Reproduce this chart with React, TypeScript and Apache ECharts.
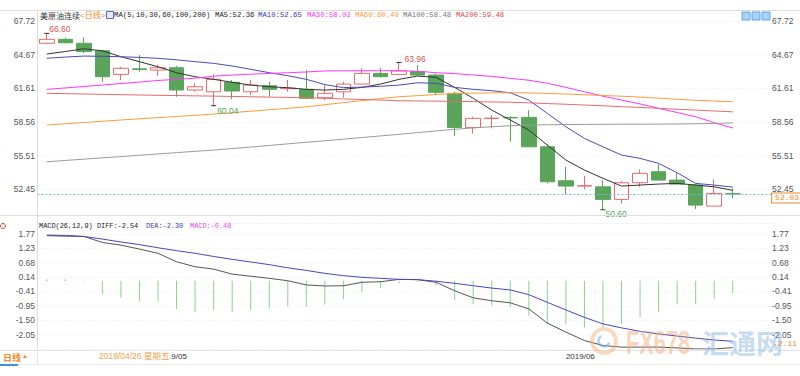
import React, { useEffect, useRef } from 'react';
import * as echarts from 'echarts';

// ---------- data ----------
const dates = [
  '2019/04/23', '2019/04/24', '2019/04/25', '2019/04/26', '2019/04/29', '2019/04/30',
  '2019/05/01', '2019/05/02', '2019/05/03', '2019/05/06', '2019/05/07', '2019/05/08',
  '2019/05/09', '2019/05/10', '2019/05/13', '2019/05/14', '2019/05/15', '2019/05/16',
  '2019/05/17', '2019/05/20', '2019/05/21', '2019/05/22', '2019/05/23', '2019/05/24',
  '2019/05/28', '2019/05/29', '2019/05/30', '2019/05/31', '2019/06/03', '2019/06/04',
  '2019/06/05', '2019/06/06', '2019/06/07', '2019/06/10', '2019/06/11', '2019/06/12',
  '2019/06/13', '2019/06/14',
];
const opens = [65.70, 66.06, 65.70, 65.02, 62.88, 63.38, 63.27, 63.48, 61.46, 61.30, 62.16, 61.30, 61.85, 61.58, 61.52, 60.76, 61.30, 62.00, 62.97, 62.88, 63.12, 62.82, 61.16, 58.07, 58.87, 58.97, 58.98, 56.31, 53.23, 52.75, 52.68, 51.54, 53.05, 54.05, 53.29, 52.84, 50.93, 52.05];
const closes = [66.06, 65.75, 64.95, 62.67, 63.43, 63.33, 63.48, 61.46, 61.76, 62.43, 61.37, 61.91, 61.52, 61.63, 60.71, 61.16, 62.00, 62.97, 62.67, 63.19, 62.82, 61.25, 58.07, 58.89, 58.91, 58.93, 56.31, 53.14, 52.75, 52.79, 51.54, 53.05, 53.90, 53.29, 52.93, 51.02, 52.08, 52.03];
const lows = [65.60, 65.68, 64.79, 62.21, 62.37, 63.12, 62.76, 60.85, 61.30, 60.04, 60.64, 61.00, 60.85, 61.30, 60.61, 60.55, 60.76, 62.00, 62.61, 62.85, 62.80, 61.00, 57.28, 57.53, 57.98, 56.77, 56.31, 52.99, 52.02, 52.45, 50.60, 51.17, 52.68, 53.29, 52.93, 50.66, 50.93, 51.63];
const highs = [66.60, 66.20, 66.24, 65.05, 63.57, 64.64, 63.73, 63.64, 62.07, 62.88, 62.37, 62.37, 62.21, 62.37, 63.27, 61.91, 62.21, 63.43, 63.48, 63.96, 63.73, 62.97, 61.30, 59.04, 59.19, 59.10, 59.64, 56.53, 54.50, 53.68, 53.29, 53.20, 54.26, 54.72, 53.96, 52.93, 53.36, 52.54];

const ma5 = [64.73, 64.95, 65.20, 65.02, 64.48, 64.03, 63.57, 63.03, 62.67, 62.43, 62.16, 61.91, 61.76, 61.67, 61.52, 61.46, 61.52, 61.70, 62.00, 62.43, 62.73, 62.61, 61.70, 60.71, 59.64, 58.74, 57.83, 56.47, 55.11, 54.20, 53.45, 52.75, 52.84, 52.93, 52.99, 52.84, 52.68, 52.36];
const ma10 = [64.34, 64.45, 64.54, 64.52, 64.48, 64.42, 64.34, 64.20, 64.03, 63.88, 63.64, 63.34, 63.03, 62.76, 62.43, 61.95, 61.68, 61.72, 61.80, 61.91, 62.12, 62.07, 61.70, 61.52, 61.40, 61.21, 60.55, 59.34, 58.13, 57.07, 56.31, 55.56, 55.26, 54.81, 53.96, 52.99, 52.84, 52.65];
const ma30 = [61.52, 61.65, 61.78, 61.91, 62.05, 62.18, 62.33, 62.43, 62.53, 62.72, 62.82, 62.90, 62.97, 63.03, 63.10, 63.19, 63.20, 63.21, 63.21, 63.21, 63.17, 63.03, 62.95, 62.82, 62.70, 62.52, 62.35, 62.07, 61.70, 61.30, 60.90, 60.55, 60.20, 59.80, 59.42, 59.04, 58.50, 58.02];
const ma60 = [58.28, 58.40, 58.51, 58.63, 58.74, 58.85, 58.95, 59.06, 59.17, 59.28, 59.41, 59.54, 59.67, 59.80, 59.94, 60.13, 60.32, 60.50, 60.68, 60.85, 60.95, 61.05, 61.16, 61.18, 61.20, 61.21, 61.20, 61.15, 61.10, 61.03, 60.96, 60.90, 60.82, 60.72, 60.62, 60.53, 60.46, 60.40];
const ma100 = [54.95, 55.07, 55.19, 55.31, 55.42, 55.54, 55.66, 55.78, 55.90, 56.01, 56.15, 56.29, 56.43, 56.58, 56.72, 56.86, 57.00, 57.15, 57.30, 57.44, 57.60, 57.75, 57.90, 58.02, 58.13, 58.22, 58.28, 58.31, 58.33, 58.34, 58.35, 58.36, 58.36, 58.37, 58.38, 58.40, 58.43, 58.48];
const ma200 = [61.16, 61.13, 61.10, 61.07, 61.04, 61.01, 60.98, 60.96, 60.93, 60.91, 60.88, 60.85, 60.82, 60.79, 60.76, 60.71, 60.65, 60.60, 60.55, 60.49, 60.47, 60.45, 60.43, 60.41, 60.38, 60.35, 60.30, 60.23, 60.17, 60.10, 60.03, 59.95, 59.88, 59.80, 59.72, 59.64, 59.56, 59.48];

const diff = [1.73, 1.72, 1.68, 1.45, 1.35, 1.20, 1.04, 0.72, 0.53, 0.44, 0.25, 0.17, 0.09, 0.00, -0.16, -0.20, -0.19, -0.06, -0.04, 0.05, 0.04, -0.06, -0.38, -0.65, -0.76, -0.84, -1.07, -1.61, -1.95, -2.27, -2.46, -2.52, -2.52, -2.52, -2.55, -2.59, -2.59, -2.54];
const dea = [1.71, 1.69, 1.68, 1.58, 1.47, 1.37, 1.25, 1.14, 1.04, 0.92, 0.81, 0.71, 0.61, 0.49, 0.39, 0.28, 0.19, 0.13, 0.09, 0.05, 0.04, -0.02, -0.10, -0.19, -0.28, -0.35, -0.53, -0.82, -1.11, -1.39, -1.64, -1.79, -1.92, -2.02, -2.10, -2.18, -2.25, -2.30];
const macdHist = [0.05, 0.05, -0.02, -0.50, -0.65, -0.78, -0.79, -1.07, -1.20, -1.11, -1.20, -1.11, -1.04, -0.98, -1.00, -0.91, -0.69, -0.44, -0.28, -0.10, -0.06, -0.19, -0.73, -0.88, -0.95, -1.01, -1.32, -1.64, -1.64, -1.79, -1.79, -1.64, -1.39, -1.20, -0.88, -0.88, -0.69, -0.48];

const mainTicks = ['52.45', '55.51', '58.56', '61.61', '64.67', '67.72'];
const macdTicks = ['-2.05', '-1.50', '-0.95', '-0.41', '0.14', '0.68', '1.23', '1.77'];

// annotated extremes: [index, kind]
const extremes: Array<[number, 'high' | 'low']> = [[0, 'high'], [9, 'low'], [19, 'high'], [30, 'low']];

// ---------- styles ----------
const MONO = "'Liberation Mono','Noto Sans CJK SC',monospace";
const SANS = "'Liberation Sans',Arial,'Noto Sans CJK SC',sans-serif";
const CJK = "'Noto Sans CJK SC',sans-serif";
const UP = '#e86a6a';
const DOWN = '#5aa55a';
const ORANGE = '#f08a24';

const extremeStyle: Record<number, { distance: number; offset: number[] }> = {
  0: { distance: 0, offset: [0, -4] },
  9: { distance: 1, offset: [0, 5] },
  19: { distance: 3, offset: [0, -3] },
  30: { distance: 0, offset: [0, 4] },
};

const last = (a: number[]) => a[a.length - 1];
const fmt = (v: number) => v.toFixed(2);

function tickFormatter(list: string[]) {
  return (v: number) => {
    const hit = list.find((t) => Math.abs(parseFloat(t) - v) < 0.01);
    return hit ?? '';
  };
}

function txt(x: number, y: number, text: string, fill: string, fontSize: number, fontFamily: string, extra: any = {}) {
  return {
    type: 'text',
    x,
    y,
    z: 100,
    silent: true,
    style: { text, fill, fontSize, fontFamily, align: 'left', verticalAlign: 'middle', ...extra },
  };
}

function buildOption(): any {
  const lastClose = last(closes);
  const candleData = dates.map((_, i) => [opens[i], closes[i], lows[i], highs[i]]);
  const xMax = dates.length + 1;

  const maDefs: Array<[string, number[], string]> = [
    ['MA5', ma5, '#333333'],
    ['MA10', ma10, '#4a4ab8'],
    ['MA30', ma30, '#ff33ff'],
    ['MA60', ma60, '#ff9a3c'],
    ['MA100', ma100, '#9a9a9a'],
    ['MA200', ma200, '#e86a6a'],
  ];

  const graphics: any[] = [
    { type: 'line', z: 90, silent: true, shape: { x1: 0, y1: 10.5, x2: 800, y2: 10.5 }, style: { stroke: '#dedede', lineWidth: 1 } },
    { type: 'line', z: 90, silent: true, shape: { x1: 0, y1: 215.5, x2: 800, y2: 215.5 }, style: { stroke: '#dedede', lineWidth: 1 } },
    { type: 'line', z: 90, silent: true, shape: { x1: 0, y1: 350.5, x2: 800, y2: 350.5 }, style: { stroke: '#e4e4e4', lineWidth: 1 } },
    { type: 'line', z: 90, silent: true, shape: { x1: 0, y1: 364.5, x2: 800, y2: 364.5 }, style: { stroke: '#e8e8e8', lineWidth: 1 } },
    { type: 'line', z: 90, silent: true, shape: { x1: 37.5, y1: 350, x2: 37.5, y2: 364 }, style: { stroke: '#e4e4e4', lineWidth: 1 } },
    { type: 'rect', z: 91, silent: true, shape: { x: 0, y: 364, width: 18, height: 2 }, style: { fill: '#3d8fe0' } },
    // title row
    txt(40, 15, '美原油连续', '#333', 8, CJK),
    txt(80, 15, '<日线>', ORANGE, 8, MONO),
    { type: 'rect', z: 100, silent: true, shape: { x: 106.5, y: 11.5, width: 7, height: 7 }, style: { fill: '#e4eaff', stroke: '#5566cc', lineWidth: 1 } },
    txt(114, 15, 'MA(5,10,30,60,100,200)', '#222', 7.3, MONO),
    txt(215, 15, 'MA5:' + fmt(last(ma5)), '#222', 7.3, MONO),
    txt(258, 15, 'MA10:' + fmt(last(ma10)), '#3a3ab0', 7.3, MONO),
    txt(307, 15, 'MA30:' + fmt(last(ma30)), '#ff33ff', 7.3, MONO),
    txt(355, 15, 'MA60:' + fmt(last(ma60)), '#ff9a3c', 7.3, MONO),
    txt(403, 15, 'MA100:' + fmt(last(ma100)), '#777', 7.3, MONO),
    txt(456, 15, 'MA200:' + fmt(last(ma200)), '#e04848', 7.3, MONO),
    // top-right buttons
    { type: 'rect', z: 100, silent: true, shape: { x: 742, y: 12, width: 8, height: 8 }, style: { fill: '#a9d2f5', stroke: '#5ea5e6', lineWidth: 1 } },
    { type: 'rect', z: 100, silent: true, shape: { x: 752, y: 12, width: 8, height: 8 }, style: { fill: '#a9d2f5', stroke: '#5ea5e6', lineWidth: 1 } },
    { type: 'rect', z: 100, silent: true, shape: { x: 762, y: 12, width: 8, height: 8 }, style: { fill: '#a9d2f5', stroke: '#5ea5e6', lineWidth: 1 } },
    // MACD legend
    { type: 'circle', z: 100, silent: true, shape: { cx: 3, cy: 226, r: 2.5 }, style: { fill: '#fff', stroke: '#e04040', lineWidth: 1 } },
    txt(39, 226, 'MACD(26,12,9) DIFF:' + fmt(last(diff)), '#222', 6.9, MONO),
    txt(146, 226, 'DEA:' + fmt(last(dea)), '#3a3ab0', 6.9, MONO),
    txt(190, 226, 'MACD:' + fmt(last(macdHist)), '#ee44ee', 6.9, MONO),
    txt(773, 343, '-2.11', ORANGE, 8, MONO),
    // bottom bar
    txt(3, 357, '日线', ORANGE, 9, CJK, { fontWeight: 'bold' }),
    txt(22, 356, '▲', ORANGE, 6, SANS),
    txt(99, 356, '2019/04/26 星期五', '#f5a04a', 8.5, SANS, { backgroundColor: '#ffffff', padding: [1, 1, 1, 0] }),
    // watermark
    { type: 'ring', z: 95, silent: true, shape: { cx: 604, cy: 341, r: 14, r0: 10 }, style: { fill: 'rgba(246,170,110,0.45)' } },
    { type: 'arc', z: 96, silent: true, shape: { cx: 604, cy: 341, r: 5.5, startAngle: 0.3, endAngle: 4.2 }, style: { stroke: 'rgba(120,170,225,0.55)', lineWidth: 2.5, fill: 'none' } },
    { ...txt(626, 342, 'FX678', 'rgba(246,170,120,0.5)', 34, SANS, { fontWeight: 'bold' }), z: 95, scaleX: 0.64 },
    { ...txt(702, 342, '汇通网', 'rgba(140,185,232,0.5)', 27, CJK, { fontWeight: 'bold' }), z: 95 },
  ];

  const series: any[] = [
    {
      type: 'candlestick',
      name: 'K',
      xAxisIndex: 0,
      yAxisIndex: 0,
      barWidth: 15,
      data: candleData,
      itemStyle: { color: '#ffffff', color0: DOWN, borderColor: UP, borderColor0: DOWN, borderWidth: 1 },
      emphasis: { disabled: true },
      markPoint: {
        silent: true,
        symbol: 'rect',
        symbolSize: [5, 1],
        itemStyle: { color: '#333' },
        data: extremes.map(([i, kind]) => {
          const v = kind === 'high' ? highs[i] : lows[i];
          return {
            coord: [dates[i], v],
            value: v,
            label: {
              show: true,
              position: 'right',
              distance: extremeStyle[i].distance,
              offset: extremeStyle[i].offset,
              formatter: fmt(v),
              color: kind === 'high' ? '#e05050' : '#5aa55a',
              fontSize: 8.5,
              fontFamily: SANS,
            },
          };
        }),
      },
      markLine: {
        silent: true,
        symbol: ['none', 'none'],
        data: [{ yAxis: lastClose }],
        lineStyle: { color: '#7db8ef', type: [2, 2], width: 1 },
        label: {
          show: true,
          position: 'end',
          distance: -7,
          offset: [0, 4],
          formatter: fmt(lastClose),
          color: ORANGE,
          fontFamily: MONO,
          fontSize: 8,
          borderColor: ORANGE,
          borderWidth: 1,
          backgroundColor: '#fff',
          padding: [1, 3, 0, 3],
        },
        emphasis: { disabled: true },
      },
    },
    ...maDefs.map(([name, arr, color]) => ({
      type: 'line',
      name,
      xAxisIndex: 0,
      yAxisIndex: 0,
      data: arr,
      showSymbol: false,
      symbol: 'none',
      lineStyle: { color, width: 1 },
      itemStyle: { color },
      emphasis: { disabled: true },
      z: 3,
    })),
    {
      type: 'bar',
      name: 'MACD',
      xAxisIndex: 1,
      yAxisIndex: 2,
      barWidth: 1,
      data: macdHist,
      itemStyle: { color: (p: any) => (p.value >= 0 ? '#e06060' : '#8fd08f') },
      emphasis: { disabled: true },
    },
    {
      type: 'line',
      name: 'DIFF',
      xAxisIndex: 1,
      yAxisIndex: 2,
      data: diff,
      showSymbol: false,
      symbol: 'none',
      lineStyle: { color: '#555555', width: 1 },
      emphasis: { disabled: true },
    },
    {
      type: 'line',
      name: 'DEA',
      xAxisIndex: 1,
      yAxisIndex: 2,
      data: dea,
      showSymbol: false,
      symbol: 'none',
      lineStyle: { color: '#4646c0', width: 1 },
      emphasis: { disabled: true },
    },
  ];

  const axisLabelStyle = { color: '#555', fontSize: 8.5, fontFamily: SANS };

  return {
    animation: false,
    backgroundColor: '#ffffff',
    grid: [
      { left: 37.5, top: 10, width: 741.6, height: 213 },
      { left: 37.5, top: 223, width: 741.6, height: 126 },
    ],
    xAxis: [
      {
        type: 'category',
        gridIndex: 0,
        data: dates,
        boundaryGap: true,
        max: xMax,
        axisLine: { show: false },
        axisTick: { show: false },
        axisLabel: { show: false },
        splitLine: { show: false },
      },
      {
        type: 'category',
        gridIndex: 1,
        data: dates,
        boundaryGap: true,
        max: xMax,
        axisLine: { show: false },
        axisTick: { show: false },
        axisLabel: {
          show: true,
          interval: (i: number) => i > 0 && i < dates.length && dates[i].slice(0, 7) !== dates[i - 1].slice(0, 7),
          formatter: (v: string) => (v ? v.slice(0, 7) : ''),
          align: 'left',
          margin: 3,
          color: '#333',
          fontSize: 8,
          fontFamily: SANS,
        },
        splitLine: { show: false },
      },
    ],
    yAxis: [
      {
        type: 'value',
        gridIndex: 0,
        position: 'left',
        min: 49.398,
        max: 68.72,
        interval: 3.054,
        axisLine: { show: true, lineStyle: { color: '#dcdcdc' } },
        axisTick: { show: false },
        axisLabel: { ...axisLabelStyle, margin: 2.5, formatter: tickFormatter(mainTicks) },
        splitLine: { show: true, lineStyle: { color: '#ececec', type: [1, 2] } },
      },
      {
        type: 'value',
        gridIndex: 0,
        position: 'right',
        min: 49.398,
        max: 68.72,
        interval: 3.054,
        axisLine: { show: false },
        axisTick: { show: false },
        axisLabel: { ...axisLabelStyle, margin: -7, formatter: tickFormatter(mainTicks) },
        splitLine: { show: false },
      },
      {
        type: 'value',
        gridIndex: 1,
        position: 'left',
        min: -2.5917,
        max: 2.19,
        interval: 0.5457,
        axisLine: { show: true, lineStyle: { color: '#dcdcdc' } },
        axisTick: { show: false },
        axisLabel: { ...axisLabelStyle, margin: 2.5, formatter: tickFormatter(macdTicks) },
        splitLine: { show: true, lineStyle: { color: '#ececec', type: [1, 2] } },
      },
      {
        type: 'value',
        gridIndex: 1,
        position: 'right',
        min: -2.5917,
        max: 2.19,
        interval: 0.5457,
        axisLine: { show: false },
        axisTick: { show: false },
        axisLabel: { ...axisLabelStyle, margin: -7, formatter: tickFormatter(macdTicks) },
        splitLine: { show: false },
      },
    ],
    graphic: graphics,
    series,
  };
}

export default function App() {
  const ref = useRef<HTMLDivElement>(null);
  useEffect(() => {
    if (!ref.current) return;
    const chart = echarts.init(ref.current, null, { renderer: 'svg' });
    chart.setOption(buildOption());
    return () => chart.dispose();
  }, []);
  return (
    <div
      ref={ref}
      style={{ position: 'fixed', left: 0, top: 0, width: 800, height: 376, background: '#fff' }}
    />
  );
}
